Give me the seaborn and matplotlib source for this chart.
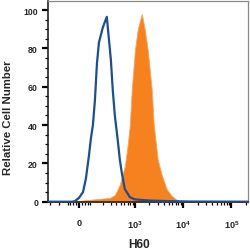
import numpy as np
import pandas as pd
import matplotlib
matplotlib.use("Agg")
import matplotlib.pyplot as plt
import seaborn as sns

# Data (fluorescence intensity vs relative cell number)
isotype_x = [-290, -47, -27, 0, 27, 47, 69, 84, 100, 117, 135, 154, 196, 245,
             305, 337, 374, 434, 480, 530, 614, 783, 1000, 2030, 5260, 13600, 220000]
isotype_y = [0, 0, 0.3, 2, 5, 12, 24, 33, 40, 53, 72, 83, 91, 96.5,
             74, 58, 45, 32, 22, 15, 6.6, 2.4, 1.2, 0.6, 0.3, 0.1, 0]

stain_x = [-290, -40, 6.7, 76, 164, 289, 374, 434, 480, 614, 709, 783, 861, 1000,
           1148, 1390, 1603, 1852, 2240, 2464, 2980, 3600, 4560, 5790, 7340, 9300, 220000]
stain_y = [0, 0, 0.5, 1, 1.5, 2, 3.5, 6.6, 9, 18.5, 30, 40, 58.5, 79,
           90, 98, 90, 79, 58.5, 40, 22, 14, 6.6, 3, 1, 0, 0]

x_major = [0, 1e3, 1e4, 1e5]
x_major_labels = ["0", "$10^{3}$", "$10^{4}$", "$10^{5}$"]
y_major = [0, 20, 40, 60, 80, 100]

sns.set_style("ticks")
plt.rcParams["font.family"] = ["Liberation Sans", "DejaVu Sans"]
plt.rcParams["font.weight"] = "bold"
plt.rcParams["mathtext.fontset"] = "custom"
plt.rcParams["mathtext.rm"] = "Liberation Sans:bold"
plt.rcParams["mathtext.it"] = "Liberation Sans:bold"
plt.rcParams["mathtext.bf"] = "Liberation Sans:bold"

fig = plt.figure(figsize=(2.50, 2.51), dpi=100)
ax = fig.add_axes([0.192, 0.1924, 0.800, 0.8016])
ax.set_xscale("asinh", linear_width=140)

stain = pd.DataFrame({"x": stain_x, "y": stain_y})
iso = pd.DataFrame({"x": isotype_x, "y": isotype_y})

ax.fill_between(stain["x"], 0, stain["y"], color="#F5821F", linewidth=0.6,
                edgecolor="#F9A45C", zorder=2)
sns.lineplot(data=iso, x="x", y="y", ax=ax, color="#1D4E8F", linewidth=1.6,
             sort=False, zorder=3)

ax.set_xlim(-290, 220000)
ax.set_ylim(0, 105)

ax.set_xticks(x_major)
ax.set_xticklabels(x_major_labels)
x_minor = ([-260, -150, -80, -60, -40, -20, 20, 40, 60, 80]
           + [m * 10 ** d for d in (2, 3, 4) for m in range(2, 10)]
           + [2e5])
ax.set_xticks(x_minor, minor=True)
ax.set_yticks(y_major)
ax.set_yticks(np.arange(0, 105, 5), minor=True)

ax.tick_params(axis="both", which="major", width=1.6, length=4.2,
               color="black", direction="out")
ax.tick_params(axis="both", which="minor", width=0.9, length=2.3, color="black",
               direction="out")
ax.tick_params(axis="x", which="major", pad=7.5, labelsize=6.6)
ax.tick_params(axis="y", which="major", pad=3, labelsize=6.3)

for side in ("left", "bottom"):
    ax.spines[side].set_color("#222222")
    ax.spines[side].set_linewidth(1.2)
for side in ("top", "right"):
    ax.spines[side].set_visible(True)
    ax.spines[side].set_color("#888888")
    ax.spines[side].set_linewidth(0.9)

ax.set_xlabel("H60", fontsize=8.6, fontweight="bold")
ax.set_ylabel("Relative Cell Number", fontsize=8.2, fontweight="bold")
ax.xaxis.set_label_coords(0.455, -0.18)
ax.yaxis.set_label_coords(-0.175, 0.423)

fig.savefig("out.png", dpi=100)
